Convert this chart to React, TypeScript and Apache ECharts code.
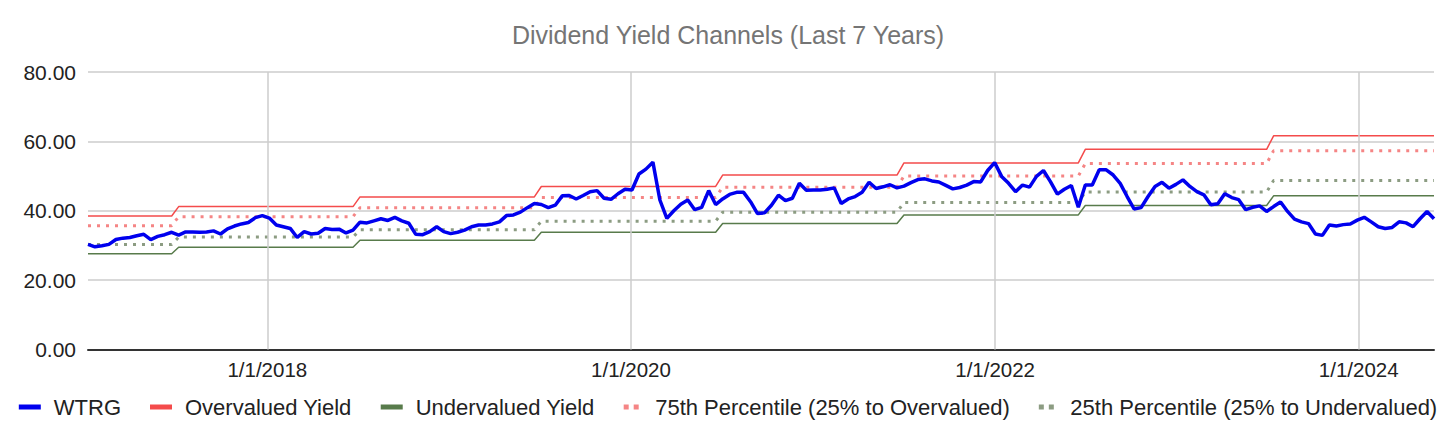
import React, { useEffect, useRef } from "react";
import * as echarts from "echarts";

// WTRG dividend yield, bi-weekly samples starting 2017-01-06
const wtrg: number[] = [
  30.3, 29.6, 29.9, 30.3, 31.7, 32.1, 32.3, 32.8, 33.2, 31.7, 32.6, 33.1, 33.8, 33.0, 33.9, 33.9, 33.8, 33.9, 34.2, 33.3, 34.8, 35.6, 36.2, 36.6, 38.0, 38.6, 37.9, 35.9, 35.4, 34.9, 32.3, 34.0, 33.3,
  33.5, 34.9, 34.6, 34.7, 33.6, 34.4, 36.7, 36.5, 37.1, 37.7, 37.2, 38.1, 37.1, 36.4, 33.2, 33.1, 34.0, 35.4, 34.0, 33.4, 33.8, 34.4, 35.4, 35.9, 35.9, 36.2, 36.8, 38.6, 38.8, 39.6, 40.9, 42.1, 41.8,
  40.9, 41.6, 44.3, 44.4, 43.4, 44.4, 45.5, 45.8, 43.6, 43.3, 44.9, 46.2, 46.0, 50.6, 52.0, 54.0, 43.1, 37.8, 40.0, 41.9, 43.1, 40.3, 41.0, 45.8, 41.8, 43.4, 44.7, 45.3, 45.3, 42.6, 39.2, 39.4, 41.6,
  44.5, 42.9, 43.6, 47.9, 45.9, 46.0, 46.0, 46.2, 46.6, 42.1, 43.4, 44.1, 45.3, 48.2, 46.4, 46.9, 47.5, 46.6, 47.1, 48.1, 49.0, 49.2, 48.6, 48.3, 47.3, 46.3, 46.7, 47.4, 48.4, 48.3, 51.6, 53.9, 49.9,
  47.9, 45.5, 47.4, 46.8, 49.9, 51.6, 48.4, 44.8, 46.2, 47.3, 41.0, 47.4, 47.4, 51.8, 51.8, 50.3, 47.9, 44.1, 40.5, 40.9, 44.1, 47.0, 48.2, 46.5, 47.6, 48.9, 47.0, 45.5, 44.6, 41.7, 42.0, 44.9, 43.8,
  43.2, 40.3, 41.0, 41.4, 39.8, 41.2, 42.5, 39.8, 37.6, 36.8, 36.3, 33.3, 32.9, 35.9, 35.6, 36.0, 36.2, 37.3, 38.1, 36.8, 35.4, 34.9, 35.2, 36.8, 36.5, 35.4, 37.7, 39.8, 37.7,
];

const startDate = "2017-01-06";
const stepDays = 14;

// yearly channel levels, reset each July 1
const resetDates = ["2017-07-01", "2018-07-01", "2019-07-01", "2020-07-01", "2021-07-01", "2022-07-01", "2023-07-01"];
const overLevels = [38.5, 41.2, 44.0, 47.0, 50.3, 53.8, 57.7, 61.6];
const p75Levels = [35.7, 38.3, 40.9, 43.8, 46.8, 50.0, 53.6, 57.3];
const p25Levels = [30.3, 32.4, 34.5, 37.0, 39.6, 42.4, 45.4, 48.7];
const underLevels = [27.6, 29.5, 31.5, 33.8, 36.3, 38.8, 41.5, 44.3];

const xTicks = ["2018-01-01", "2020-01-01", "2022-01-01", "2024-01-01"];
const yTicks = [0, 20, 40, 60, 80];

const names = [
  "WTRG",
  "Overvalued Yield",
  "Undervalued Yield",
  "75th Percentile (25% to Overvalued)",
  "25th Percentile (25% to Undervalued)",
];

const DAY = 86400000;
const toTs = (s: string) => {
  const [y, m, d] = s.split("-").map(Number);
  return Date.UTC(y, m - 1, d);
};

export default function App() {
  const ref = useRef<HTMLDivElement>(null);

  useEffect(() => {
    if (!ref.current) return;
    const chart = echarts.init(ref.current, undefined, { renderer: "svg" });
    const t0 = toTs(startDate);
    const dates = wtrg.map((_, i) => t0 + i * stepDays * DAY);
    const resets = resetDates.map(toTs);
    const period = (t: number) => resets.filter((r) => r <= t).length;
    const levelSeries = (levels: number[]) => dates.map((t) => [t, levels[period(t)]]);
    const tickTs = xTicks.map(toTs);
    const font = "'Liberation Sans', Arial, sans-serif";
    const dotIcon = "path://M0,0h5v5h-5zM10,0h5v5h-5z";

    const option: any = {
      animation: false,
      backgroundColor: "#ffffff",
      textStyle: { fontFamily: font },
      title: {
        text: "Dividend Yield Channels (Last 7 Years)",
        left: "center",
        top: 17,
        textStyle: { fontFamily: font, fontSize: 25, fontWeight: "normal", color: "#757575" },
      },
      legend: {
        left: "center",
        top: 391,
        itemWidth: 22,
        itemHeight: 5,
        itemGap: 29,
        textStyle: { fontFamily: font, fontSize: 22, color: "#222222", padding: [0, 0, 0, 8] },
        itemStyle: { borderWidth: 0 },
        lineStyle: { type: "solid" },
        data: [
          { name: names[0], icon: "rect" },
          { name: names[1], icon: "rect" },
          { name: names[2], icon: "rect" },
          { name: names[3], icon: dotIcon },
          { name: names[4], icon: dotIcon },
        ],
      },
      grid: { left: 88, right: 22, top: 72, bottom: 90.5, containLabel: false },
      xAxis: {
        type: "value",
        min: dates[0],
        max: dates[dates.length - 1],
        axisLine: { show: true, onZero: false, lineStyle: { color: "#333333", width: 2 } },
        axisTick: { show: false, customValues: tickTs },
        splitLine: { show: false },
        axisLabel: {
          customValues: tickTs,
          margin: 9,
          fontFamily: font,
          fontSize: 20.5,
          color: "#222222",
          formatter: (v: number) => {
            const d = new Date(v);
            return `${d.getUTCMonth() + 1}/${d.getUTCDate()}/${d.getUTCFullYear()}`;
          },
        },
      },
      yAxis: {
        type: "value",
        min: yTicks[0],
        max: yTicks[yTicks.length - 1],
        interval: 20,
        axisLine: { show: false },
        axisTick: { show: false },
        splitLine: { show: true, lineStyle: { color: "#cccccc", width: 1.5 } },
        axisLabel: {
          margin: 12,
          fontFamily: font,
          fontSize: 21,
          color: "#222222",
          formatter: (v: number) => v.toFixed(2),
        },
      },
      series: [
        {
          type: "line",
          name: "__grid",
          data: dates.map((t, i) => [t, wtrg[i]]),
          showSymbol: false,
          silent: true,
          z: 0,
          lineStyle: { opacity: 0, width: 0 },
          itemStyle: { opacity: 0 },
          markLine: {
            silent: true,
            symbol: "none",
            label: { show: false },
            lineStyle: { color: "#cccccc", width: 1.5, type: "solid" },
            data: tickTs.map((t) => ({ xAxis: t })),
          },
        },
        {
          type: "line",
          name: names[1],
          data: levelSeries(overLevels),
          showSymbol: false,
          z: 2,
          color: "#f44b4b",
          itemStyle: { color: "#f44b4b" },
          lineStyle: { color: "#f44b4b", width: 1.5 },
        },
        {
          type: "line",
          name: names[2],
          data: levelSeries(underLevels),
          showSymbol: false,
          z: 2,
          color: "#587b4b",
          itemStyle: { color: "#587b4b" },
          lineStyle: { color: "#587b4b", width: 1.5 },
        },
        {
          type: "line",
          name: names[3],
          data: levelSeries(p75Levels),
          showSymbol: false,
          z: 2,
          color: "#f58585",
          itemStyle: { color: "#f58585" },
          lineStyle: { color: "#f58585", width: 3, type: [3, 6], cap: "butt" },
        },
        {
          type: "line",
          name: names[4],
          data: levelSeries(p25Levels),
          showSymbol: false,
          z: 2,
          color: "#8c9c82",
          itemStyle: { color: "#8c9c82" },
          lineStyle: { color: "#8c9c82", width: 3, type: [3, 6], cap: "butt" },
        },
        {
          type: "line",
          name: names[0],
          data: dates.map((t, i) => [t, wtrg[i]]),
          showSymbol: false,
          z: 5,
          color: "#0000ee",
          itemStyle: { color: "#0000ee" },
          lineStyle: { color: "#0000ee", width: 3.5 },
        },
      ],
    };
    chart.setOption(option);
    return () => chart.dispose();
  }, []);

  return <div ref={ref} style={{ width: 1456, height: 440, position: "absolute", left: 0, top: 0 }} />;
}
